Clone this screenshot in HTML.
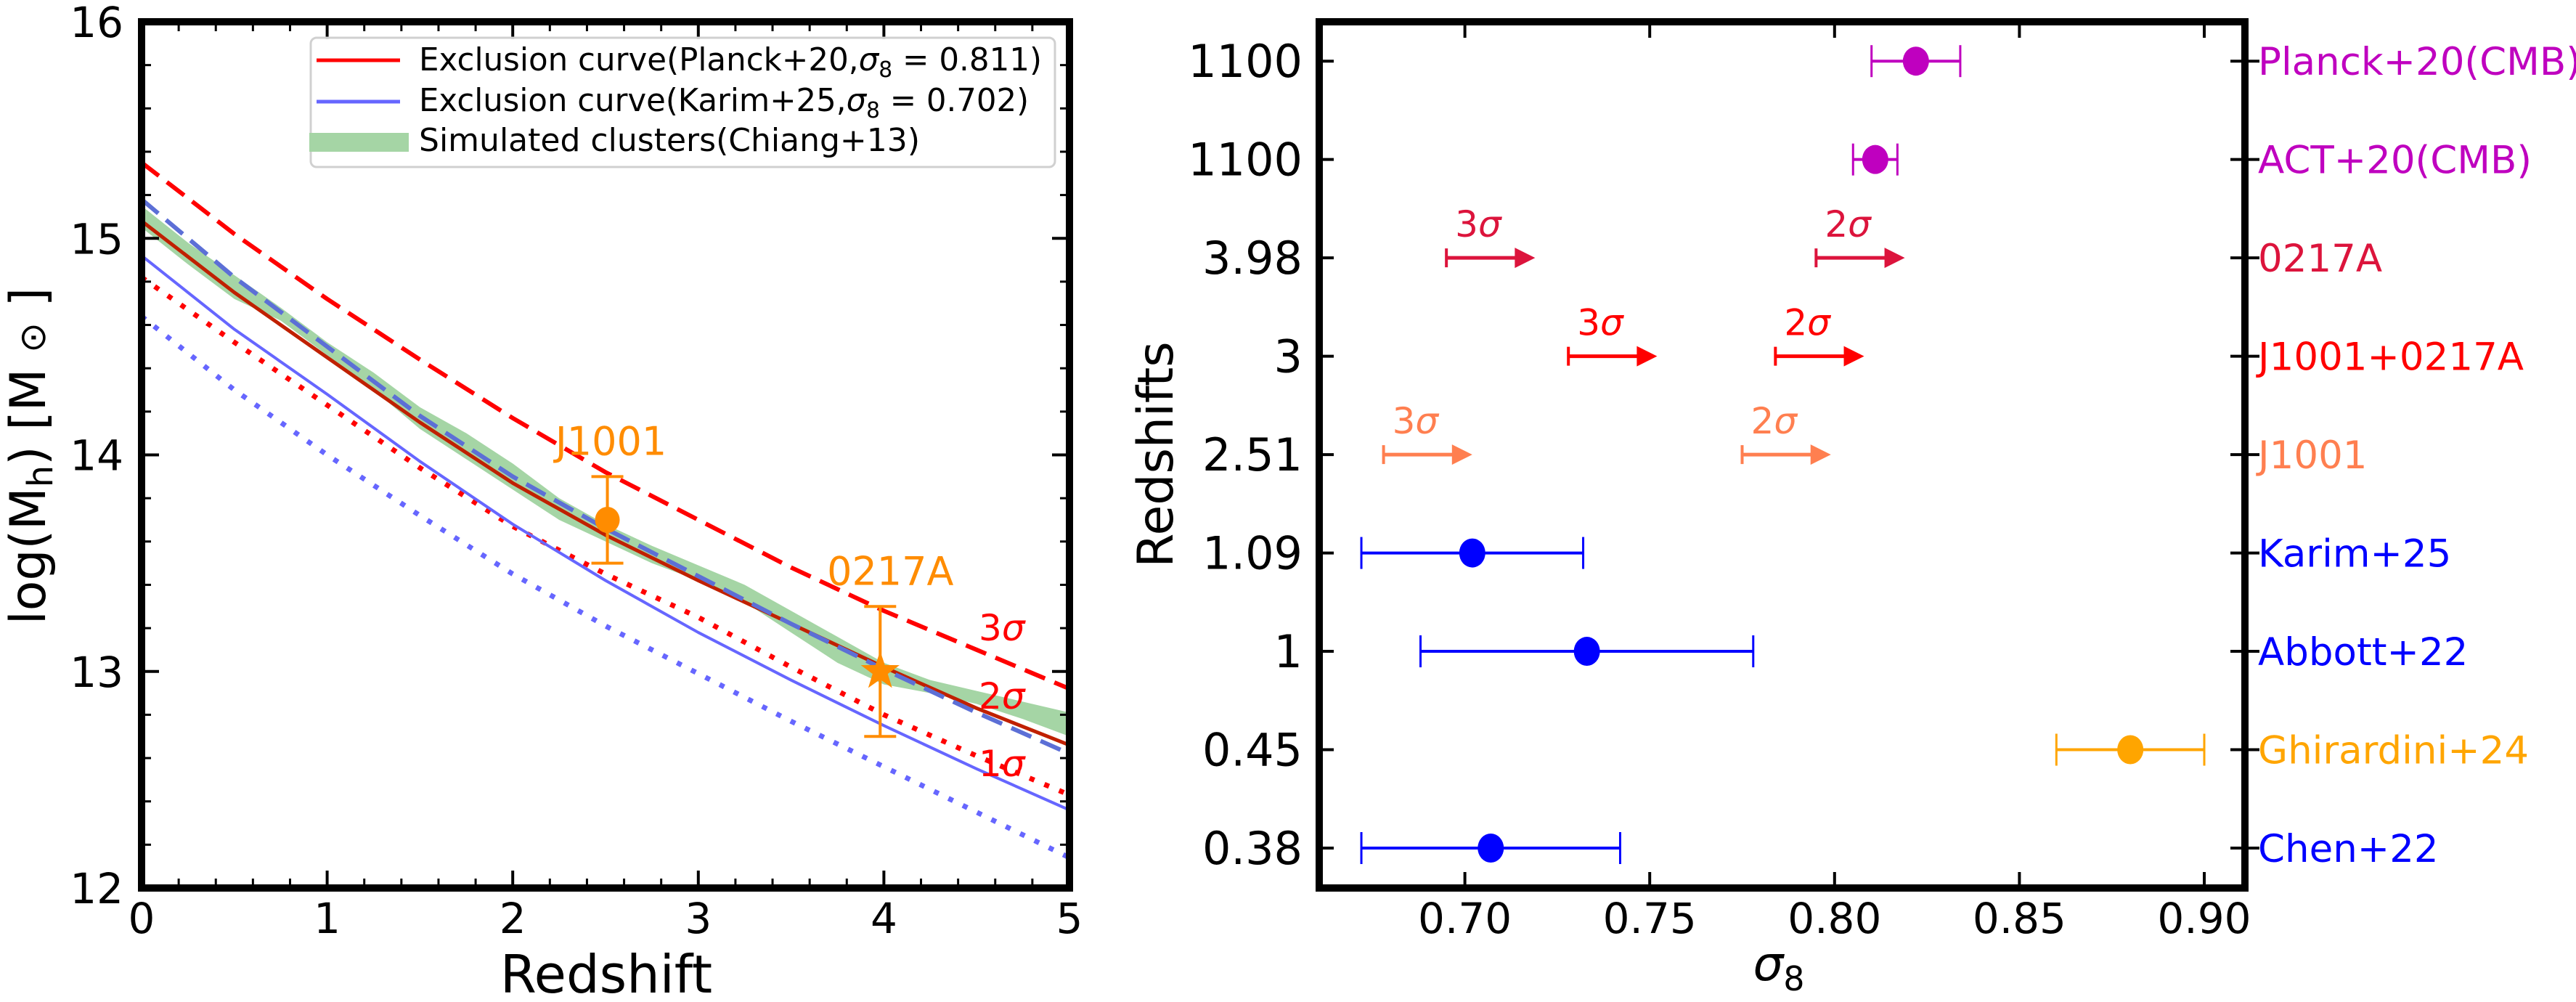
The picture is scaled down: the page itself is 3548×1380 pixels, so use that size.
<!DOCTYPE html>
<html><head><meta charset="utf-8"><style>
html,body{margin:0;padding:0;background:#fff;}
svg{display:block;font-family:"DejaVu Sans","Liberation Sans",sans-serif;}
</style></head><body>
<svg id="fig" style="position:absolute;left:0;top:0" width="3548" height="1380" viewBox="0 0 3548 1380" xmlns="http://www.w3.org/2000/svg">
<rect width="3548" height="1380" fill="#fff"/>
<g id="left"></g>
<g id="right"></g>
</svg>
<script>
// ---------- Left panel data ----------
const zGrid = [0,0.5,1,1.5,2,2.5,3,3.5,4,4.5,5];
const planckSolid = [15.08,14.75,14.45,14.15,13.87,13.63,13.42,13.22,13.02,12.83,12.66];
const planck3sig = [15.35,15.02,14.72,14.44,14.17,13.92,13.70,13.48,13.28,13.10,12.92];
const planck1sig = [14.82,14.52,14.23,13.94,13.67,13.45,13.25,13.02,12.80,12.61,12.43];
const karimSolid = [14.92,14.58,14.28,13.97,13.68,13.42,13.18,12.96,12.75,12.55,12.36];
const karimDashed = [15.18,14.82,14.50,14.18,13.90,13.66,13.44,13.22,13.01,12.81,12.62];
const karimDotted = [14.64,14.30,14.00,13.72,13.45,13.21,12.99,12.77,12.56,12.35,12.14];
const bandZ = [0,0.25,0.5,0.75,1,1.25,1.5,1.75,2,2.25,2.5,2.75,3,3.25,3.5,3.75,4,4.25,4.5,4.75,5];
const bandUpper = [15.15,14.98,14.83,14.68,14.52,14.38,14.22,14.10,13.96,13.80,13.68,13.58,13.49,13.40,13.28,13.16,13.04,12.96,12.91,12.86,12.81];
const bandLower = [15.05,14.88,14.72,14.62,14.46,14.30,14.12,13.98,13.84,13.70,13.60,13.50,13.42,13.32,13.18,13.04,12.94,12.90,12.85,12.78,12.70];
const leftXTicks = [0,1,2,3,4,5];
const leftYTicks = [12,13,14,15,16];
const obsZ = [2.51, 3.98];
const obsM = [13.7, 13.0];
const obsLo = [13.5, 12.7];
const obsHi = [13.9, 13.3];
const obsNames = ["J1001","0217A"];

// ---------- Right panel data ----------
const catLabels = ["0.38","0.45","1","1.09","2.51","3","3.98","1100","1100"];
const catNames = ["Chen+22","Ghirardini+24","Abbott+22","Karim+25","J1001","J1001+0217A","0217A","ACT+20(CMB)","Planck+20(CMB)"];
const catColors = ["#0000ff","#ffa500","#0000ff","#0000ff","#ff7f50","#ff0000","#dc143c","#bf00bf","#bf00bf"];
const ptIdx = [0,1,2,3,7,8];
const ptVal = [0.707,0.880,0.733,0.702,0.811,0.822];
const ptLo = [0.672,0.860,0.688,0.672,0.805,0.810];
const ptHi = [0.742,0.900,0.778,0.732,0.817,0.834];
const arrIdx = [4,4,5,5,6,6];
const arrStart = [0.678,0.775,0.728,0.784,0.695,0.795];
const arrEnd = [0.702,0.799,0.752,0.808,0.719,0.819];
const arrSig = ["3","2","3","2","3","2"];
const rightXTicks = [0.70,0.75,0.80,0.85,0.90];

const NS="http://www.w3.org/2000/svg";
function el(parent, tag, attrs, text){
  const e=document.createElementNS(NS,tag);
  for(const k in attrs) e.setAttribute(k,attrs[k]);
  if(text!==undefined) e.textContent=text;
  parent.appendChild(e); return e;
}
// ---------- Left panel ----------
const L=document.getElementById('left');
const LX0=195,LX1=1473,LY0=30,LY1=1223;
const lx=z=>LX0+(z-0)/5*(LX1-LX0);
const ly=m=>LY1-(m-12)/4*(LY1-LY0);
{
  let pts=[];
  bandZ.forEach((z,i)=>pts.push(lx(z)+','+ly(bandUpper[i])));
  for(let i=bandZ.length-1;i>=0;i--) pts.push(lx(bandZ[i])+','+ly(bandLower[i]));
  const b=el(L,'polygon',{points:pts.join(' '),fill:'#a5d5a5'});
  
  
}
function curve(arr,color,w,dash,name){
  const d=zGrid.map((z,i)=>lx(z)+','+ly(arr[i])).join(' ');
  const p=el(L,'polyline',{points:d,fill:'none',stroke:color,'stroke-width':w,'stroke-dasharray':dash||'none','stroke-linejoin':'round'});
  
  
}
curve(karimDotted,'#6666ff',7,'7,15','karim-1sigma-curve');
curve(planck1sig,'#ff0000',7,'7,15','planck-1sigma-curve');
curve(karimSolid,'#6666ff',4,null,'karim-exclusion-curve');
curve(planck3sig,'#ff0000',6,'30,14','planck-3sigma-curve');
curve(planckSolid,'#c02000',5,null,'planck-exclusion-curve');
curve(karimDashed,'#5c6fd6',6,'30,14','karim-dashed-curve');
obsZ.forEach((z,i)=>{
  const g=el(L,'g',{});
  
  
  const x=lx(z);
  el(g,'line',{x1:x,x2:x,y1:ly(obsLo[i]),y2:ly(obsHi[i]),stroke:'#ff8c00','stroke-width':4});
  el(g,'line',{x1:x-22,x2:x+22,y1:ly(obsLo[i]),y2:ly(obsLo[i]),stroke:'#ff8c00','stroke-width':4});
  el(g,'line',{x1:x-22,x2:x+22,y1:ly(obsHi[i]),y2:ly(obsHi[i]),stroke:'#ff8c00','stroke-width':4});
  if(i===0){ el(g,'ellipse',{cx:x,cy:ly(obsM[i]),rx:17,ry:18,fill:'#ff8c00'}); }
  else {
    const R=28,r=11,cy=ly(obsM[i]);let pts=[];
    for(let k=0;k<10;k++){const a=-Math.PI/2+k*Math.PI/5;const rr=k%2?r:R;pts.push((x+rr*Math.cos(a))+','+(cy+rr*Math.sin(a)));}
    el(g,'polygon',{points:pts.join(' '),fill:'#ff8c00'});
  }
  el(g,'text',{x:x+(i===0?5:14),y:ly(obsHi[i])-30,'font-size':54,fill:'#ff8c00','text-anchor':'middle'},obsNames[i]);
});
[['3',882],['2',976],['1',1069]].forEach(s=>{
  const t=el(L,'text',{x:1348,y:s[1],'font-size':50,fill:'#ff0000'});
  
  
  el(t,'tspan',{},s[0]); el(t,'tspan',{'font-style':'italic'},'σ');
});
leftXTicks.forEach(v=>{
  const x=lx(v);
  el(L,'line',{x1:x,x2:x,y1:LY1,y2:LY1-24,stroke:'#000','stroke-width':4});
  el(L,'line',{x1:x,x2:x,y1:LY0,y2:LY0+24,stroke:'#000','stroke-width':4});
  const t=el(L,'text',{x:x,y:1285,'font-size':58,'text-anchor':'middle'},String(v));
  
  
});
for(let v=0.2;v<5;v+=0.2){ if(Math.abs(v-Math.round(v))<0.01) continue; const x=lx(v);
  el(L,'line',{x1:x,x2:x,y1:LY1,y2:LY1-13,stroke:'#000','stroke-width':3});
  el(L,'line',{x1:x,x2:x,y1:LY0,y2:LY0+13,stroke:'#000','stroke-width':3});}
leftYTicks.forEach(v=>{
  const y=ly(v);
  el(L,'line',{x1:LX0,x2:LX0+24,y1:y,y2:y,stroke:'#000','stroke-width':4});
  el(L,'line',{x1:LX1,x2:LX1-24,y1:y,y2:y,stroke:'#000','stroke-width':4});
  const t=el(L,'text',{x:170,y:y+21,'font-size':58,'text-anchor':'end'},String(v));
  
  
});
for(let v=12.2;v<16;v+=0.2){ if(Math.abs(v-Math.round(v))<0.01) continue; const y=ly(v);
  el(L,'line',{x1:LX0,x2:LX0+13,y1:y,y2:y,stroke:'#000','stroke-width':3});
  el(L,'line',{x1:LX1,x2:LX1-13,y1:y,y2:y,stroke:'#000','stroke-width':3});}
el(L,'rect',{x:LX0,y:LY0,width:LX1-LX0,height:LY1-LY0,fill:'none',stroke:'#000','stroke-width':10});
</script>
<svg style="position:absolute;left:0;top:0" width="3548" height="1380" xmlns="http://www.w3.org/2000/svg" font-family="DejaVu Sans, Liberation Sans, sans-serif">
<g>
<rect x="428" y="52" width="1025" height="178" rx="8" fill="#fff" fill-opacity="0.85" stroke="#d0d0d0" stroke-width="3"/>
<line x1="436" y1="83" x2="551" y2="83" stroke="#ff0000" stroke-width="5"/>
<text x="577" y="97" font-size="44" textLength="858" lengthAdjust="spacingAndGlyphs">Exclusion curve(Planck+20,<tspan font-style="italic">σ</tspan><tspan font-size="30" dy="9">8</tspan><tspan dy="-9"> = 0.811)</tspan></text>
<line x1="436" y1="140" x2="551" y2="140" stroke="#6666ff" stroke-width="5"/>
<text x="577" y="153" font-size="44" textLength="840" lengthAdjust="spacingAndGlyphs">Exclusion curve(Karim+25,<tspan font-style="italic">σ</tspan><tspan font-size="30" dy="9">8</tspan><tspan dy="-9"> = 0.702)</tspan></text>
<rect x="426" y="183" width="137" height="26" fill="#a5d5a5"/>
<text x="577" y="208" font-size="44" textLength="690" lengthAdjust="spacingAndGlyphs">Simulated clusters(Chiang+13)</text>
</g>
<text x="835" y="1367" font-size="72" text-anchor="middle">Redshift</text>
<text transform="translate(62,628) rotate(-90)" font-size="68" text-anchor="middle">log(M<tspan font-size="48" dy="10">h</tspan><tspan dy="-10">) [M <tspan font-size="50">⊙</tspan> ]</tspan></text>
<text transform="translate(1615,626) rotate(-90)" font-size="68" text-anchor="middle">Redshifts</text>
<text x="2450" y="1350" font-size="66" text-anchor="middle"><tspan font-style="italic">σ</tspan><tspan font-size="46" dy="14">8</tspan></text>
</svg>
<script>
// ---------- Right panel ----------
const R=document.getElementById('right');
const RX0=1817,RX1=3092,RY0=30,RY1=1223;
const sxMin=0.6606,sxMax=0.911;
const rx=v=>RX0+(v-sxMin)/(sxMax-sxMin)*(RX1-RX0);
const yMin=-0.406,yMax=8.4;
const ry=i=>RY1-(i-yMin)/(yMax-yMin)*(RY1-RY0);
catLabels.forEach((lab,i)=>{
  const y=ry(i);
  el(R,'line',{x1:RX0,x2:RX0+20,y1:y,y2:y,stroke:'#000','stroke-width':4});
  el(R,'line',{x1:RX1-20,x2:RX1+20,y1:y,y2:y,stroke:'#000','stroke-width':4});
  const t=el(R,'text',{x:1794,y:y+22,'font-size':62,'text-anchor':'end'},lab);
  
  
  const n=el(R,'text',{x:3110,y:y+19,'font-size':53,fill:catColors[i]},catNames[i]);
  
  
});
rightXTicks.forEach(v=>{
  const x=rx(v);
  el(R,'line',{x1:x,x2:x,y1:RY1,y2:RY1-22,stroke:'#000','stroke-width':4});
  el(R,'line',{x1:x,x2:x,y1:RY0,y2:RY0+22,stroke:'#000','stroke-width':4});
  const t=el(R,'text',{x:x,y:1285,'font-size':58,'text-anchor':'middle'},v.toFixed(2));
  
  
});
ptIdx.forEach((ci,k)=>{
  const g=el(R,'g',{});
  
  
  const c=catColors[ci],y=ry(ci);
  el(g,'line',{x1:rx(ptLo[k]),x2:rx(ptHi[k]),y1:y,y2:y,stroke:c,'stroke-width':4});
  el(g,'line',{x1:rx(ptLo[k]),x2:rx(ptLo[k]),y1:y-22,y2:y+22,stroke:c,'stroke-width':3});
  el(g,'line',{x1:rx(ptHi[k]),x2:rx(ptHi[k]),y1:y-22,y2:y+22,stroke:c,'stroke-width':3});
  el(g,'ellipse',{cx:rx(ptVal[k]),cy:y,rx:18,ry:20,fill:c});
});
arrIdx.forEach((ci,k)=>{
  const g=el(R,'g',{});
  
  
  const c=catColors[ci],y=ry(ci),x0=rx(arrStart[k]),x1=rx(arrEnd[k]);
  el(g,'line',{x1:x0,x2:x1-20,y1:y,y2:y,stroke:c,'stroke-width':5});
  el(g,'line',{x1:x0,x2:x0,y1:y-13,y2:y+13,stroke:c,'stroke-width':4});
  el(g,'polygon',{points:`${x1},${y} ${x1-28},${y-14} ${x1-28},${y+14}`,fill:c});
  const t=el(g,'text',{x:x0+12,y:y-29,'font-size':50,fill:c});
  el(t,'tspan',{},arrSig[k]); el(t,'tspan',{'font-style':'italic'},'σ');
});
el(R,'rect',{x:RX0,y:RY0,width:RX1-RX0,height:RY1-RY0,fill:'none',stroke:'#000','stroke-width':10});
</script>
</body></html>
